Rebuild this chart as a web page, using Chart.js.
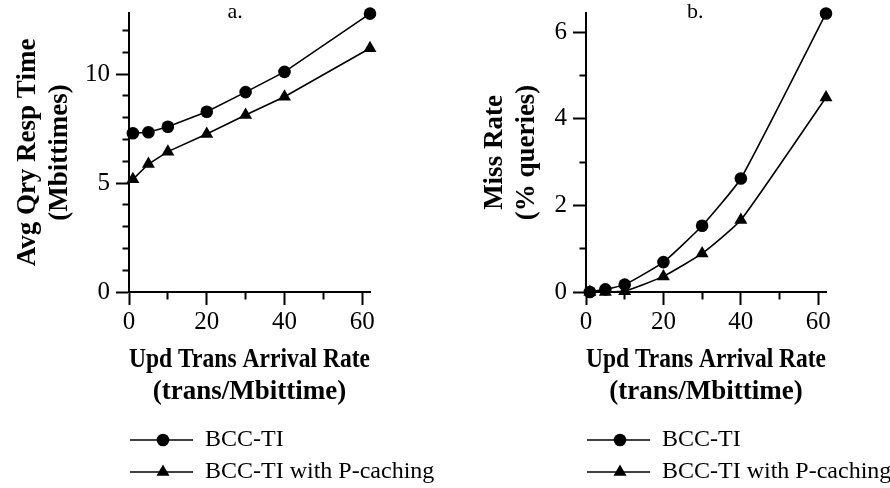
<!DOCTYPE html>
<html>
<head>
<meta charset="utf-8">
<script src="https://cdn.jsdelivr.net/npm/chart.js@4.4.0/dist/chart.umd.min.js"></script>
<style>
  body { margin: 0; background: #fff; }
  .panel { position: absolute; top: 0; width: 445px; height: 488px; }
</style>
</head>
<body>
<div class="panel" style="left:0"><canvas id="chartA" width="445" height="488"></canvas></div>
<div class="panel" style="left:445px"><canvas id="chartB" width="445" height="488"></canvas></div>
<script>
// Data
const rates = [1, 5, 10, 20, 30, 40, 62];
const seriesNames = ['BCC-TI', 'BCC-TI with P-caching'];
const respBcc = [7.28, 7.33, 7.58, 8.27, 9.17, 10.1, 12.77];
const respPcache = [5.17, 5.87, 6.44, 7.25, 8.12, 8.96, 11.18];
const missBcc = [0, 0.06, 0.17, 0.69, 1.53, 2.62, 6.43];
const missPcache = [0, 0, 0.02, 0.36, 0.89, 1.66, 4.49];
const xTickLabels = [0, 20, 40, 60];
const respTickLabels = [0, 5, 10];
const missTickLabels = [0, 2, 4, 6];

Chart.defaults.font.family = "'Liberation Serif', 'Times New Roman', serif";
Chart.defaults.color = '#000';

const tickFont = { size: 25 };
const titleFont = { size: 27, weight: 'bold', lineHeight: 32 / 27 };
const circleR = 6.3;
const triangleR = 7.5;

// legend sample: short line with the marker in the middle
function legendSample(style) {
    const c = document.createElement('canvas');
    c.width = 70;
    c.height = 24;
    const g = c.getContext('2d');
    g.strokeStyle = '#000';
    g.lineWidth = 1.5;
    g.beginPath();
    g.moveTo(0, 12);
    g.lineTo(63, 12);
    g.stroke();
    g.fillStyle = '#000';
    Chart.helpers.drawPoint(g, { pointStyle: style, radius: style === 'triangle' ? triangleR : circleR, borderWidth: 0 }, 33, 12);
    return c;
}
const samples = [legendSample('circle'), legendSample('triangle')];

// minor ticks are half as long: dash away the outer half
function tickDash(axis, majors) {
    return function(ctx) {
        if (!ctx.tick || majors.includes(ctx.tick.value)) return [];
        return axis === 'x' ? [6.5, 20] : [0, 6.5, 20];
    };
}

function series(ys, name, style, tension) {
    return {
        label: name,
        data: rates.map((x, i) => ({ x: x, y: ys[i] })),
        borderColor: '#000',
        backgroundColor: '#000',
        borderWidth: 1.6,
        pointStyle: style,
        pointRadius: style === 'triangle' ? triangleR : circleR,
        pointBorderWidth: 0,
        pointBackgroundColor: '#000',
        tension: tension,
        clip: false
    };
}

const panelLetter = {
    id: 'panelLetter',
    afterLayout(chart) {
        // let the legend text run past the plot width, like the original
        if (chart.legend) chart.legend.right = chart.width;
    },
    afterDraw(chart, args, opts) {
        const { ctx, chartArea } = chart;
        ctx.save();
        ctx.font = "22px 'Liberation Serif'";
        ctx.fillStyle = '#000';
        ctx.textAlign = 'center';
        ctx.textBaseline = 'alphabetic';
        ctx.fillText(opts.text, chartArea.left + chartArea.width * opts.at, chartArea.top + 5);
        ctx.restore();
    }
};

function makeChart(id, cfg) {
    return new Chart(document.getElementById(id), {
        type: 'line',
        data: {
            datasets: [
                series(cfg.first, seriesNames[0], 'circle', cfg.tension),
                series(cfg.second, seriesNames[1], 'triangle', cfg.tension)
            ]
        },
        plugins: [panelLetter],
        options: {
            responsive: false,
            animation: false,
            layout: { padding: { left: cfg.padLeft, right: cfg.padRight, top: 13, bottom: -6 } },
            plugins: {
                tooltip: { enabled: false },
                panelLetter: { text: cfg.letter, at: cfg.letterAt },
                legend: {
                    position: 'bottom',
                    align: 'start',
                    fullSize: false,
                    labels: {
                        usePointStyle: true,
                        pointStyleWidth: 56,
                        padding: 8,
                        font: { size: 24 },
                        color: '#000',
                        generateLabels: chart => chart.data.datasets.map((ds, i) => ({
                            text: ds.label,
                            pointStyle: samples[i],
                            datasetIndex: i,
                            hidden: false,
                            lineWidth: 0,
                            fillStyle: '#000',
                            strokeStyle: '#000',
                            fontColor: '#000'
                        }))
                    }
                }
            },
            scales: {
                x: {
                    type: 'linear',
                    min: 0,
                    max: 62,
                    border: { display: true, color: '#000', width: 2 },
                    grid: {
                        drawOnChartArea: false,
                        tickLength: 13,
                        tickColor: '#000',
                        tickWidth: 2,
                        tickBorderDash: tickDash('x', xTickLabels)
                    },
                    ticks: {
                        stepSize: 10,
                        includeBounds: false,
                        autoSkip: false,
                        maxRotation: 0,
                        padding: 2,
                        font: tickFont,
                        callback: v => xTickLabels.includes(v) ? v : ''
                    },
                    title: {
                        display: true,
                        text: ['Upd Trans Arrival Rate', '(trans/Mbittime)'],
                        font: titleFont,
                        padding: { top: 0, bottom: 12 }
                    },
                    afterFit: s => {
                        s.height = 128;
                        s.paddingLeft = 0;
                        s.paddingRight = 0;
                    }
                },
                y: {
                    type: 'linear',
                    min: 0,
                    max: cfg.yMax,
                    border: { display: true, color: '#000', width: 2 },
                    grid: {
                        drawOnChartArea: false,
                        tickLength: 13,
                        tickColor: '#000',
                        tickWidth: 2,
                        tickBorderDash: tickDash('y', cfg.yLabels)
                    },
                    ticks: {
                        stepSize: 1,
                        includeBounds: false,
                        autoSkip: false,
                        padding: 6,
                        font: tickFont,
                        callback: v => cfg.yLabels.includes(v) ? v : ''
                    },
                    title: {
                        display: true,
                        text: cfg.yTitle,
                        font: titleFont,
                        padding: { top: 3, bottom: 8 }
                    },
                    afterFit: s => {
                        s.width = cfg.yWidth;
                        s.paddingTop = 0;
                        s.paddingBottom = 0;
                    }
                }
            }
        }
    });
}

makeChart('chartA', {
    first: respBcc,
    second: respPcache,
    tension: 0,
    letter: 'a.',
    letterAt: 0.44,
    yMax: 12.8,
    yLabels: respTickLabels,
    yTitle: ['Avg Qry Resp Time', '(Mbittimes)'],
    padLeft: 9,
    padRight: 75,
    yWidth: 120
});

makeChart('chartB', {
    first: missBcc,
    second: missPcache,
    tension: 0.15,
    letter: 'b.',
    letterAt: 0.455,
    yMax: 6.44,
    yLabels: missTickLabels,
    yTitle: ['Miss Rate', '(% queries)'],
    padLeft: 31,
    padRight: 64,
    yWidth: 110
});
</script>
</body>
</html>
